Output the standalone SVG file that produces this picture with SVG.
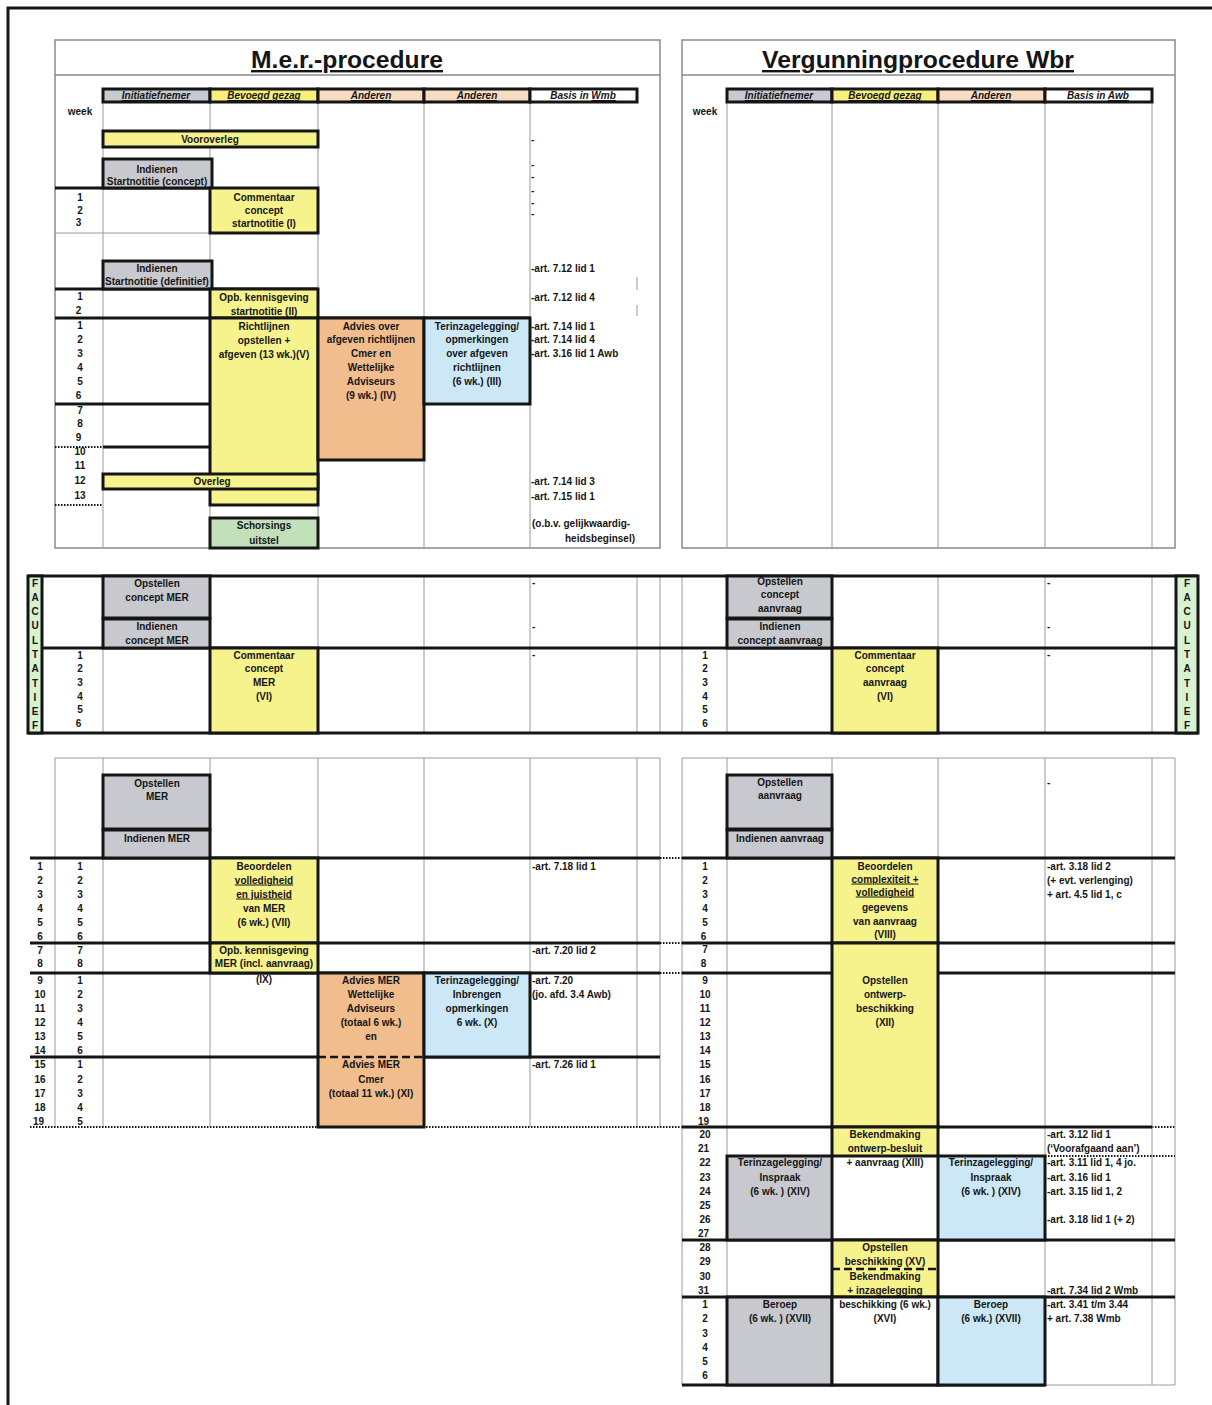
<svg xmlns="http://www.w3.org/2000/svg" width="1212" height="1405" viewBox="0 0 1212 1405">
<style>
.t{font-family:"Liberation Sans",Arial,sans-serif;font-size:10px;font-weight:bold;fill:#151515;text-anchor:middle}
.s{text-anchor:start}
.e{text-anchor:end}
.h{font-style:italic}
.u{text-decoration:underline}
.ti{font-family:"Liberation Sans",Arial,sans-serif;font-size:24px;font-weight:bold;fill:#151515;text-anchor:middle;text-decoration:underline}
.g{stroke:#9a9a9a;stroke-width:1;fill:none}
.pg{stroke:#8a8a8a;stroke-width:1.5;fill:none}
.k{stroke:#151515;stroke-width:3;fill:none}
.d{stroke:#151515;stroke-width:2;stroke-dasharray:1.5 1.5;fill:none}
.dl{stroke:#151515;stroke-width:2.5;stroke-dasharray:8 4;fill:none}
.b{stroke:#151515;stroke-width:3}
.gy{fill:#c8c9ce}.yl{fill:#f6f28c}.pc{fill:#f1bd8d}.bl{fill:#cce8f6}.gr{fill:#c2e1ba}.fg{fill:#d8f1d0}.wh{fill:#fff}
.hg{fill:#c6cad3}.hy{fill:#f6f07a}.hp{fill:#f6dcc0}
</style>
<rect width="1212" height="1405" fill="#fff"/>
<g id="frame"><path class="k" d="M8,1405 V8 H1212"/></g>

<!-- ===== Left top panel: M.e.r.-procedure ===== -->
<g id="mer-panel">
<rect class="pg" x="55" y="40" width="605" height="508"/>
<line class="pg" x1="55" y1="75" x2="660" y2="75"/>
<text class="ti" x="347" y="68" textLength="192" lengthAdjust="spacingAndGlyphs">M.e.r.-procedure</text>
<path class="g" d="M103,102V548M210,102V548M318,102V548M424,102V548M530,102V548M637,277V290M637,305V316"/>
<path class="g" d="M55,233H210"/>
<path class="k" d="M55,188H210M55,289H318M55,318H530M55,404H210M103,447H210"/>
<path class="d" d="M55,447H103M55,505H103"/>
<text class="t" x="80" y="115">week</text>
</g>
<g id="mer-header">
<rect class="hg b" x="103" y="89" width="107" height="13"/>
<rect class="hy b" x="210" y="89" width="108" height="13"/>
<rect class="hp b" x="318" y="89" width="106" height="13"/>
<rect class="hp b" x="424" y="89" width="106" height="13"/>
<rect class="wh b" x="530" y="89" width="107" height="13"/>
<text class="t h u" x="156" y="99">Initiatiefnemer</text>
<text class="t h u" x="264" y="99">Bevoegd gezag</text>
<text class="t h u" x="371" y="99">Anderen</text>
<text class="t h u" x="477" y="99">Anderen</text>
<text class="t h" x="583" y="99">Basis in <tspan class="u">Wmb</tspan></text>
</g>
<g id="mer-weeks"><text class="t">
<tspan x="80" y="200.5">1</tspan><tspan x="80" y="213.5">2</tspan><tspan x="80" y="225.5">3</tspan>
<tspan x="80" y="299.5">1</tspan><tspan x="80" y="313.5">2</tspan>
<tspan x="80" y="328.5">1</tspan><tspan x="80" y="342.5">2</tspan><tspan x="80" y="356.5">3</tspan><tspan x="80" y="370.5">4</tspan><tspan x="80" y="384.5">5</tspan><tspan x="80" y="398.5">6</tspan>
<tspan x="80" y="413.5">7</tspan><tspan x="80" y="426.5">8</tspan><tspan x="80" y="440.5">9</tspan>
<tspan x="80" y="454.5">10</tspan><tspan x="80" y="468.5">11</tspan><tspan x="80" y="483.5">12</tspan><tspan x="80" y="498.5">13</tspan>
</text></g>
<g id="n-vooroverleg"><rect class="yl b" x="103" y="131" width="215" height="16"/><text class="t" x="210" y="142.5">Vooroverleg</text></g>
<g id="n-indienen-concept"><rect class="gy b" x="103" y="159" width="109" height="29"/><text class="t"><tspan x="157" y="172.5">Indienen</tspan><tspan x="157" y="184.5">Startnotitie (concept)</tspan></text></g>
<g id="n-commentaar-startnotitie"><rect class="yl b" x="210" y="188" width="108" height="45"/><text class="t"><tspan x="264" y="200.5">Commentaar</tspan><tspan x="264" y="213.5">concept</tspan><tspan x="264" y="226.5">startnotitie (I)</tspan></text></g>
<g id="n-indienen-definitief"><rect class="gy b" x="103" y="261" width="109" height="28"/><text class="t"><tspan x="157" y="271.5">Indienen</tspan><tspan x="157" y="284.5">Startnotitie (definitief)</tspan></text></g>
<g id="n-opb-kennisgeving"><rect class="yl b" x="210" y="289" width="108" height="29"/><text class="t"><tspan x="264" y="300.5">Opb. kennisgeving</tspan><tspan x="264" y="314.5">startnotitie (II)</tspan></text></g>
<g id="n-richtlijnen"><rect class="yl b" x="210" y="318" width="108" height="187"/><text class="t"><tspan x="264" y="329.5">Richtlijnen</tspan><tspan x="264" y="343.5">opstellen +</tspan><tspan x="264" y="357.5">afgeven  (13 wk.)(V)</tspan></text></g>
<g id="n-advies-richtlijnen"><rect class="pc b" x="318" y="318" width="106" height="142"/><text class="t"><tspan x="371" y="329.5">Advies over</tspan><tspan x="371" y="342.5">afgeven richtlijnen</tspan><tspan x="371" y="356.5">Cmer en</tspan><tspan x="371" y="370.5">Wettelijke</tspan><tspan x="371" y="384.5">Adviseurs</tspan><tspan x="371" y="398.5">(9 wk.) (IV)</tspan></text></g>
<g id="n-terinzage-richtlijnen"><rect class="bl b" x="424" y="318" width="106" height="86"/><text class="t"><tspan x="477" y="329.5">Terinzagelegging/</tspan><tspan x="477" y="342.5">opmerkingen</tspan><tspan x="477" y="356.5">over afgeven</tspan><tspan x="477" y="370.5">richtlijnen</tspan><tspan x="477" y="384.5">(6 wk.) (III)</tspan></text></g>
<g id="n-overleg"><rect class="yl b" x="103" y="474" width="215" height="15"/><text class="t" x="212" y="485">Overleg</text></g>
<g id="n-schorsing"><rect class="gr b" x="210" y="518" width="108" height="30"/><text class="t"><tspan x="264" y="528.5">Schorsings</tspan><tspan x="264" y="543.5">uitstel</tspan></text></g>
<g id="mer-basis"><text class="t s">
<tspan x="531" y="143">-</tspan><tspan x="531" y="168">-</tspan><tspan x="531" y="180">-</tspan><tspan x="531" y="194">-</tspan><tspan x="531" y="206">-</tspan><tspan x="531" y="217">-</tspan>
<tspan x="531" y="271.5">-art. 7.12 lid 1</tspan>
<tspan x="531" y="300.5">-art. 7.12 lid 4</tspan>
<tspan x="531" y="329.5">-art. 7.14 lid 1</tspan>
<tspan x="531" y="342.5">-art. 7.14 lid 4</tspan>
<tspan x="531" y="356.5">-art. 3.16 lid 1 Awb</tspan>
<tspan x="531" y="484.5">-art. 7.14 lid 3</tspan>
<tspan x="531" y="499.5">-art. 7.15 lid 1</tspan>
<tspan x="532" y="526.5">(o.b.v. gelijkwaardig-</tspan>
</text><text class="t e" x="635" y="541.5">heidsbeginsel)</text></g>

<!-- ===== Right top panel: Vergunningprocedure Wbr ===== -->
<g id="wbr-panel">
<rect class="pg" x="682" y="40" width="493" height="508"/>
<line class="pg" x1="682" y1="75" x2="1175" y2="75"/>
<text class="ti" x="918" y="68" textLength="312" lengthAdjust="spacingAndGlyphs">Vergunningprocedure Wbr</text>
<path class="g" d="M727,102V548M832,102V548M938,102V548M1045,102V548M1152,102V548"/>
<text class="t" x="705" y="115">week</text>
</g>
<g id="wbr-header">
<rect class="hg b" x="727" y="89" width="105" height="13"/>
<rect class="hy b" x="832" y="89" width="106" height="13"/>
<rect class="hp b" x="938" y="89" width="107" height="13"/>
<rect class="wh b" x="1045" y="89" width="107" height="13"/>
<text class="t h u" x="779" y="99">Initiatiefnemer</text>
<text class="t h u" x="885" y="99">Bevoegd gezag</text>
<text class="t h u" x="991" y="99">Anderen</text>
<text class="t h" x="1098" y="99">Basis in <tspan class="u">Awb</tspan></text>
</g>

<!-- ===== Facultatief band ===== -->
<g id="fac-grid">
<path class="g" d="M103,576V733M210,576V733M318,576V733M424,576V733M530,576V733M637,576V733M660,576V733M682,576V733M727,576V733M832,576V733M938,576V733M1045,576V733M1152,576V733"/>
<path class="k" d="M28,576H1198M42,648H1175M28,733H1198"/>
</g>
<g id="fac-left-label"><rect class="fg b" x="28" y="576" width="14" height="157"/><text class="t">
<tspan x="35" y="586.5">F</tspan><tspan x="35" y="600.5">A</tspan><tspan x="35" y="614.5">C</tspan><tspan x="35" y="628.5">U</tspan><tspan x="35" y="643.5">L</tspan><tspan x="35" y="657.5">T</tspan><tspan x="35" y="671.5">A</tspan><tspan x="35" y="686.5">T</tspan><tspan x="35" y="700.5">I</tspan><tspan x="35" y="714.5">E</tspan><tspan x="35" y="728.5">F</tspan></text></g>
<g id="fac-right-label"><rect class="fg b" x="1176" y="576" width="22" height="157"/><text class="t">
<tspan x="1187" y="586.5">F</tspan><tspan x="1187" y="600.5">A</tspan><tspan x="1187" y="614.5">C</tspan><tspan x="1187" y="628.5">U</tspan><tspan x="1187" y="643.5">L</tspan><tspan x="1187" y="657.5">T</tspan><tspan x="1187" y="671.5">A</tspan><tspan x="1187" y="686.5">T</tspan><tspan x="1187" y="700.5">I</tspan><tspan x="1187" y="714.5">E</tspan><tspan x="1187" y="728.5">F</tspan></text></g>
<g id="fac-weeks"><text class="t">
<tspan x="80" y="658.5">1</tspan><tspan x="80" y="671.5">2</tspan><tspan x="80" y="685.5">3</tspan><tspan x="80" y="699.5">4</tspan><tspan x="80" y="712.5">5</tspan><tspan x="80" y="726.5">6</tspan>
<tspan x="705" y="658.5">1</tspan><tspan x="705" y="671.5">2</tspan><tspan x="705" y="685.5">3</tspan><tspan x="705" y="699.5">4</tspan><tspan x="705" y="712.5">5</tspan><tspan x="705" y="726.5">6</tspan>
</text></g>
<g id="n-opstellen-concept-mer"><rect class="gy b" x="103" y="576" width="107" height="42"/><text class="t"><tspan x="157" y="586.5">Opstellen</tspan><tspan x="157" y="600.5">concept MER</tspan></text></g>
<g id="n-indienen-concept-mer"><rect class="gy b" x="103" y="619" width="107" height="29"/><text class="t"><tspan x="157" y="629.5">Indienen</tspan><tspan x="157" y="643.5">concept MER</tspan></text></g>
<g id="n-commentaar-concept-mer"><rect class="yl b" x="210" y="648" width="108" height="85"/><text class="t"><tspan x="264" y="658.5">Commentaar</tspan><tspan x="264" y="671.5">concept</tspan><tspan x="264" y="685.5">MER</tspan><tspan x="264" y="699.5">(VI)</tspan></text></g>
<g id="n-opstellen-concept-aanvraag"><rect class="gy b" x="727" y="576" width="105" height="42"/><text class="t"><tspan x="780" y="584.5">Opstellen</tspan><tspan x="780" y="598">concept</tspan><tspan x="780" y="612">aanvraag</tspan></text></g>
<g id="n-indienen-concept-aanvraag"><rect class="gy b" x="727" y="619" width="105" height="29"/><text class="t"><tspan x="780" y="629.5">Indienen</tspan><tspan x="780" y="643.5">concept aanvraag</tspan></text></g>
<g id="n-commentaar-concept-aanvraag"><rect class="yl b" x="832" y="648" width="106" height="85"/><text class="t"><tspan x="885" y="658.5">Commentaar</tspan><tspan x="885" y="671.5">concept</tspan><tspan x="885" y="685.5">aanvraag</tspan><tspan x="885" y="699.5">(VI)</tspan></text></g>
<g id="fac-basis"><text class="t s">
<tspan x="532" y="586">-</tspan><tspan x="532" y="630">-</tspan><tspan x="532" y="658">-</tspan>
<tspan x="1047" y="586">-</tspan><tspan x="1047" y="630">-</tspan><tspan x="1047" y="658">-</tspan>
</text></g>

<!-- ===== Left bottom: MER ===== -->
<g id="mer2-grid">
<path class="g" d="M55,758H660M55,758V1127M103,758V1127M210,758V1127M318,758V1127M424,758V1127M530,758V1127M637,758V1127M660,758V1127"/>
<path class="k" d="M30,858H660M30,943H660M30,973H660M30,1057H318M424,1057H660"/>
<path class="dl" d="M318,1057H424"/>
<path class="d" d="M30,1127H1175M660,858H682M660,943H682M660,973H682"/>
</g>
<g id="mer2-weeks"><text class="t">
<tspan x="40" y="869.5">1</tspan><tspan x="40" y="883.5">2</tspan><tspan x="40" y="897.5">3</tspan><tspan x="40" y="911.5">4</tspan><tspan x="40" y="925.5">5</tspan><tspan x="40" y="939.5">6</tspan><tspan x="40" y="953.5">7</tspan><tspan x="40" y="966.5">8</tspan><tspan x="40" y="983.5">9</tspan><tspan x="40" y="997.5">10</tspan><tspan x="40" y="1011.5">11</tspan><tspan x="40" y="1025.5">12</tspan><tspan x="40" y="1039.5">13</tspan><tspan x="40" y="1053.5">14</tspan><tspan x="40" y="1067.5">15</tspan><tspan x="40" y="1082.5">16</tspan><tspan x="40" y="1096.5">17</tspan><tspan x="40" y="1110.5">18</tspan><tspan x="40" y="1124.5">19</tspan>
<tspan x="80" y="869.5">1</tspan><tspan x="80" y="883.5">2</tspan><tspan x="80" y="897.5">3</tspan><tspan x="80" y="911.5">4</tspan><tspan x="80" y="925.5">5</tspan><tspan x="80" y="939.5">6</tspan><tspan x="80" y="953.5">7</tspan><tspan x="80" y="966.5">8</tspan><tspan x="80" y="983.5">1</tspan><tspan x="80" y="997.5">2</tspan><tspan x="80" y="1011.5">3</tspan><tspan x="80" y="1025.5">4</tspan><tspan x="80" y="1039.5">5</tspan><tspan x="80" y="1053.5">6</tspan><tspan x="80" y="1067.5">1</tspan><tspan x="80" y="1082.5">2</tspan><tspan x="80" y="1096.5">3</tspan><tspan x="80" y="1110.5">4</tspan><tspan x="80" y="1124.5">5</tspan>
</text></g>
<g id="n-opstellen-mer"><rect class="gy b" x="103" y="775" width="107" height="54"/><text class="t"><tspan x="157" y="786.5">Opstellen</tspan><tspan x="157" y="799.5">MER</tspan></text></g>
<g id="n-indienen-mer"><rect class="gy b" x="103" y="830" width="107" height="28"/><text class="t" x="157" y="841.5">Indienen MER</text></g>
<g id="n-beoordelen-mer"><rect class="yl b" x="210" y="858" width="108" height="85"/><text class="t"><tspan x="264" y="869.5">Beoordelen</tspan><tspan x="264" y="883.5" class="u">volledigheid</tspan><tspan x="264" y="897.5" class="u">en juistheid</tspan><tspan x="264" y="911.5">van MER</tspan><tspan x="264" y="925.5">(6 wk.) (VII)</tspan></text></g>
<g id="n-opb-kennisgeving-mer"><rect class="yl b" x="210" y="943" width="108" height="30"/><text class="t"><tspan x="264" y="953.5">Opb. kennisgeving</tspan><tspan x="264" y="966.5">MER (incl. aanvraag)</tspan><tspan x="264" y="982.5">(IX)</tspan></text></g>
<g id="n-advies-mer"><rect class="pc b" x="318" y="973" width="106" height="154"/><path class="dl" d="M318,1057H424"/><text class="t"><tspan x="371" y="983.5">Advies MER</tspan><tspan x="371" y="997.5">Wettelijke</tspan><tspan x="371" y="1011.5">Adviseurs</tspan><tspan x="371" y="1025.5">(totaal 6 wk.)</tspan><tspan x="371" y="1039.5">en</tspan><tspan x="371" y="1067.5">Advies MER</tspan><tspan x="371" y="1082.5">Cmer</tspan><tspan x="371" y="1096.5">(totaal 11 wk.) (XI)</tspan></text></g>
<g id="n-terinzage-mer"><rect class="bl b" x="424" y="973" width="106" height="84"/><text class="t"><tspan x="477" y="983.5">Terinzagelegging/</tspan><tspan x="477" y="997.5">Inbrengen</tspan><tspan x="477" y="1011.5">opmerkingen</tspan><tspan x="477" y="1025.5">6 wk. (X)</tspan></text></g>
<g id="mer2-basis"><text class="t s">
<tspan x="532" y="869.5">-art. 7.18 lid 1</tspan>
<tspan x="532" y="953.5">-art. 7.20 lid 2</tspan>
<tspan x="532" y="983.5">-art. 7.20</tspan>
<tspan x="532" y="997.5">(jo. afd. 3.4 Awb)</tspan>
<tspan x="532" y="1067.5">-art. 7.26 lid 1</tspan>
</text></g>

<!-- ===== Right bottom: aanvraag ===== -->
<g id="wbr2-grid">
<path class="g" d="M682,758H1175M682,758V1385M727,758V1385M832,758V1385M938,758V1385M1045,758V1385M1152,758V1385M1175,758V1385M1045,1385H1175"/>
<path class="k" d="M682,858H1175M682,943H1175M682,973H832M938,973H1175M682,1127H1152M682,1240H1175M682,1297H1175M682,1385H1045"/>
<path class="d" d="M1045,1156H1175"/>
</g>
<g id="wbr2-weeks"><text class="t">
<tspan x="705" y="869.5">1</tspan><tspan x="705" y="883.5">2</tspan><tspan x="705" y="897.5">3</tspan><tspan x="705" y="911.5">4</tspan><tspan x="705" y="925.5">5</tspan><tspan x="705" y="939.5">6</tspan>
<tspan x="705" y="952.5">7</tspan><tspan x="705" y="966.5">8</tspan>
<tspan x="705" y="983.5">9</tspan><tspan x="705" y="997.5">10</tspan><tspan x="705" y="1011.5">11</tspan><tspan x="705" y="1025.5">12</tspan><tspan x="705" y="1039.5">13</tspan><tspan x="705" y="1053.5">14</tspan><tspan x="705" y="1067.5">15</tspan><tspan x="705" y="1082.5">16</tspan><tspan x="705" y="1096.5">17</tspan><tspan x="705" y="1110.5">18</tspan><tspan x="705" y="1124.5">19</tspan>
<tspan x="705" y="1137.5">20</tspan><tspan x="705" y="1151.5">21</tspan>
<tspan x="705" y="1165.5">22</tspan><tspan x="705" y="1180.5">23</tspan><tspan x="705" y="1194.5">24</tspan><tspan x="705" y="1208.5">25</tspan><tspan x="705" y="1222.5">26</tspan><tspan x="705" y="1236.5">27</tspan>
<tspan x="705" y="1250.5">28</tspan><tspan x="705" y="1264.5">29</tspan><tspan x="705" y="1279.5">30</tspan><tspan x="705" y="1293.5">31</tspan>
<tspan x="705" y="1307.5">1</tspan><tspan x="705" y="1321.5">2</tspan><tspan x="705" y="1336.5">3</tspan><tspan x="705" y="1350.5">4</tspan><tspan x="705" y="1364.5">5</tspan><tspan x="705" y="1378.5">6</tspan>
</text></g>
<g id="n-opstellen-aanvraag"><rect class="gy b" x="727" y="775" width="105" height="54"/><text class="t"><tspan x="780" y="785.5">Opstellen</tspan><tspan x="780" y="798.5">aanvraag</tspan></text></g>
<g id="n-indienen-aanvraag"><rect class="gy b" x="727" y="830" width="105" height="28"/><text class="t" x="780" y="841.5">Indienen aanvraag</text></g>
<g id="n-beoordelen-aanvraag"><rect class="yl b" x="832" y="858" width="106" height="85"/><text class="t"><tspan x="885" y="869.5">Beoordelen</tspan><tspan x="885" y="882.5" class="u">complexiteit +</tspan><tspan x="885" y="895.5" class="u">volledigheid</tspan><tspan x="885" y="910.5">gegevens</tspan><tspan x="885" y="924.5">van aanvraag</tspan><tspan x="885" y="937.5">(VIII)</tspan></text></g>
<g id="n-opstellen-ontwerp"><rect class="yl b" x="832" y="943" width="106" height="184"/><text class="t"><tspan x="885" y="983.5">Opstellen</tspan><tspan x="885" y="997.5">ontwerp-</tspan><tspan x="885" y="1011.5">beschikking</tspan><tspan x="885" y="1025.5">(XII)</tspan></text></g>
<g id="n-bekendmaking-ontwerp"><rect class="yl b" x="832" y="1127" width="106" height="29"/><text class="t"><tspan x="885" y="1137.5">Bekendmaking</tspan><tspan x="885" y="1151.5">ontwerp-besluit</tspan><tspan x="885" y="1165.5">+ aanvraag (XIII)</tspan></text></g>
<g id="n-terinzage-aanvrager"><rect class="gy b" x="727" y="1156" width="105" height="84"/><text class="t"><tspan x="780" y="1165.5">Terinzagelegging/</tspan><tspan x="780" y="1180.5">Inspraak</tspan><tspan x="780" y="1194.5">(6 wk. ) (XIV)</tspan></text></g>
<g id="n-terinzage-anderen"><rect class="bl b" x="938" y="1156" width="107" height="84"/><text class="t"><tspan x="991" y="1165.5">Terinzagelegging/</tspan><tspan x="991" y="1180.5">Inspraak</tspan><tspan x="991" y="1194.5">(6 wk. ) (XIV)</tspan></text></g>
<g id="n-opstellen-beschikking"><rect class="yl b" x="832" y="1240" width="106" height="57"/><path class="dl" d="M832,1269H938"/><text class="t"><tspan x="885" y="1250.5">Opstellen</tspan><tspan x="885" y="1264.5">beschikking (XV)</tspan><tspan x="885" y="1279.5">Bekendmaking</tspan><tspan x="885" y="1293.5">+ inzagelegging</tspan></text></g>
<g id="n-beroep-aanvrager"><rect class="gy b" x="727" y="1297" width="105" height="88"/><text class="t"><tspan x="780" y="1307.5">Beroep</tspan><tspan x="780" y="1321.5">(6 wk. ) (XVII)</tspan></text></g>
<g id="n-beschikking-termijn"><rect class="wh b" x="832" y="1297" width="106" height="88"/><text class="t"><tspan x="885" y="1307.5">beschikking (6 wk.)</tspan><tspan x="885" y="1321.5">(XVI)</tspan></text></g>
<g id="n-beroep-anderen"><rect class="bl b" x="938" y="1297" width="107" height="88"/><text class="t"><tspan x="991" y="1307.5">Beroep</tspan><tspan x="991" y="1321.5">(6 wk.) (XVII)</tspan></text></g>
<g id="wbr2-basis"><text class="t s">
<tspan x="1047" y="786">-</tspan>
<tspan x="1047" y="869.5">-art. 3.18 lid 2</tspan>
<tspan x="1047" y="883.5">(+ evt. verlenging)</tspan>
<tspan x="1047" y="897.5">+ art. 4.5 lid 1, c</tspan>
<tspan x="1047" y="1137.5">-art. 3.12 lid 1</tspan>
<tspan x="1047" y="1151.5">(‘Voorafgaand aan’)</tspan>
<tspan x="1047" y="1165.5">-art. 3.11 lid 1, 4 jo.</tspan>
<tspan x="1047" y="1180.5">-art. 3.16 lid 1</tspan>
<tspan x="1047" y="1194.5">-art. 3.15 lid 1, 2</tspan>
<tspan x="1047" y="1222.5">-art. 3.18 lid 1 (+ 2)</tspan>
<tspan x="1047" y="1293.5">-art. 7.34 lid 2 Wmb</tspan>
<tspan x="1047" y="1307.5">-art. 3.41 t/m 3.44</tspan>
<tspan x="1047" y="1321.5">+ art. 7.38 Wmb</tspan>
</text></g>
</svg>
